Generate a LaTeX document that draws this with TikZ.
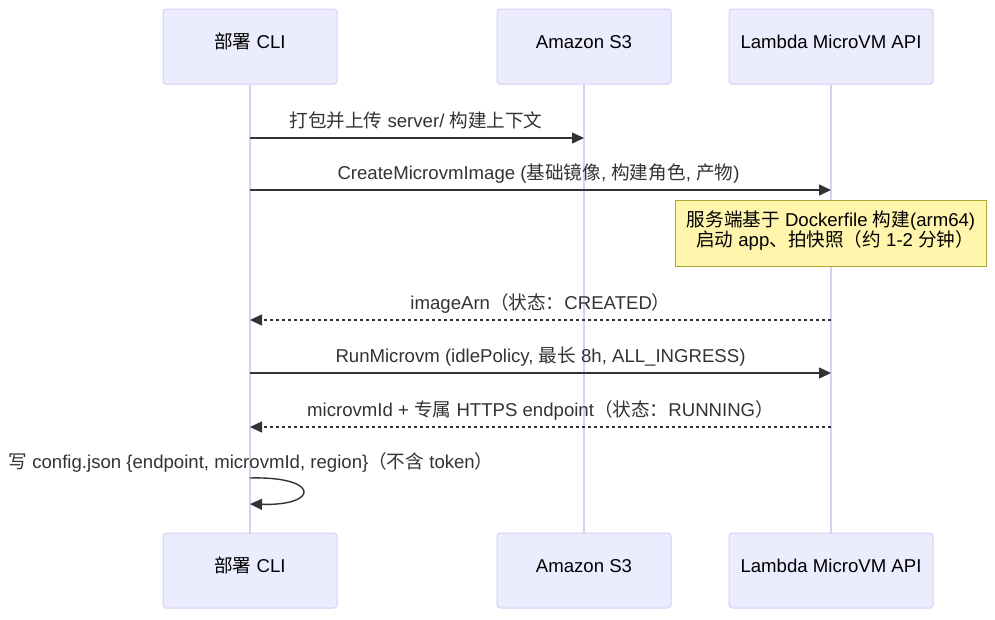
\documentclass[tikz,border=0pt]{standalone}
\usepackage{fontspec}
\setmainfont{Liberation Sans}
\newfontfamily\cjkfont{Noto Sans CJK SC}
\newcommand\zh[1]{{\cjkfont #1}}
\usetikzlibrary{arrows.meta}
\definecolor{actfill}{HTML}{ECECFF}
\definecolor{actline}{HTML}{DACEF3}
\definecolor{notefill}{HTML}{FFF5AD}
\definecolor{noteline}{HTML}{AAAA33}
\definecolor{ink}{HTML}{333333}
\tikzset{
  actorbox/.style={draw=actline, fill=actfill, line width=1pt, rounded corners=3pt,
    minimum height=75pt, inner sep=0pt},
  actortext/.style={anchor=base, inner sep=0pt, text=black, font=\fontsize{18.6}{22}\selectfont},
  lifeline/.style={draw=actline, line width=1.5pt},
  msgtext/.style={anchor=base, inner sep=0pt, text=ink, font=\fontsize{18.6}{22}\selectfont},
  msgline/.style={draw=ink, line width=1.4pt, -{Triangle[length=12pt,width=11pt]}},
  replyline/.style={msgline, dash pattern=on 3pt off 3pt},
  notebox/.style={draw=noteline, fill=notefill, line width=1pt},
  notetext/.style={anchor=base, inner sep=0pt, text=black, font=\fontsize{18.6}{22}\selectfont},
}
\begin{document}
\begin{tikzpicture}[x=1pt, y=-1pt]
\useasboundingbox[fill=white] (0,0) rectangle (995,619);

% actor boxes (top)
\node[actorbox, minimum width=174pt] (cliT) at (250,46.5) {};
\node[actorbox, minimum width=174pt] (s3T) at (584,46.5) {};
\node[actorbox, minimum width=204pt] (lamT) at (831,46.5) {};
% actor boxes (bottom)
\node[actorbox, minimum width=174pt] (cliB) at (250,570.5) {};
\node[actorbox, minimum width=174pt] (s3B) at (584,570.5) {};
\node[actorbox, minimum width=204pt] (lamB) at (831,570.5) {};

% lifelines
\draw[lifeline] (cliT.south) -- (cliB.north);
\draw[lifeline] (s3T.south) -- (s3B.north);
\draw[lifeline] (lamT.south) -- (lamB.north);

% actor labels
\node[actortext] (cliTl) at (250,48) {\zh{部署} CLI};
\node[actortext] (s3Tl) at (584,48) {Amazon S3};
\node[actortext] (lamTl) at (831,48) {Lambda MicroVM API};
\node[actortext] (cliBl) at (250,572) {\zh{部署} CLI};
\node[actortext] (s3Bl) at (584,572) {Amazon S3};
\node[actortext] (lamBl) at (831,572) {Lambda MicroVM API};

% message anchor points on lifelines
\coordinate (c1) at (250,138);  \coordinate (s1) at (584,138);
\coordinate (c2) at (250,190);  \coordinate (l2) at (831,190);
\coordinate (c4) at (250,320);  \coordinate (l4) at (831,320);
\coordinate (c5) at (250,373);  \coordinate (l5) at (831,373);
\coordinate (c6) at (250,427);  \coordinate (l6) at (831,427);
\coordinate (c7a) at (250,478); \coordinate (c7b) at (250,504);

% messages
\node[msgtext] (t1) at (416,127) {\zh{打包并上传} server/ \zh{构建上下文}};
\draw[msgline] (c1) -- (s1);

\node[msgtext] (t2) at (538.5,179) {CreateMicrovmImage (\zh{基础镜像}, \zh{构建角色}, \zh{产物})};
\draw[msgline] (c2) -- (l2);

% note
\node[notebox, minimum width=311pt, minimum height=66pt, inner sep=0pt] (note) at (830.5,233) {};
\node[notetext] (n1) at (831,226) {\zh{服务端基于} Dockerfile \zh{构建}(arm64)};
\node[notetext] (n2) at (835,246) {\zh{启动} app\zh{、拍快照（约} 1-2 \zh{分钟）}};

\node[msgtext] (t4) at (540.5,309) {imageArn\zh{（状态：}CREATED\zh{）}};
\draw[replyline] (l4) -- (c4);

\node[msgtext] (t5) at (540.5,362) {RunMicrovm (idlePolicy, \zh{最长} 8h, ALL\_INGRESS)};
\draw[msgline] (c5) -- (l5);

\node[msgtext] (t6) at (540.5,416) {microvmId + \zh{专属} HTTPS endpoint\zh{（状态：}RUNNING\zh{）}};
\draw[replyline] (l6) -- (c6);

\node[msgtext] (t7) at (251,468) {\zh{写} config.json \{endpoint, microvmId, region\}\zh{（不含} token\zh{）}};
\draw[msgline] (c7a) .. controls (320,476) and (320,506) .. (c7b);
\end{tikzpicture}
\end{document}
